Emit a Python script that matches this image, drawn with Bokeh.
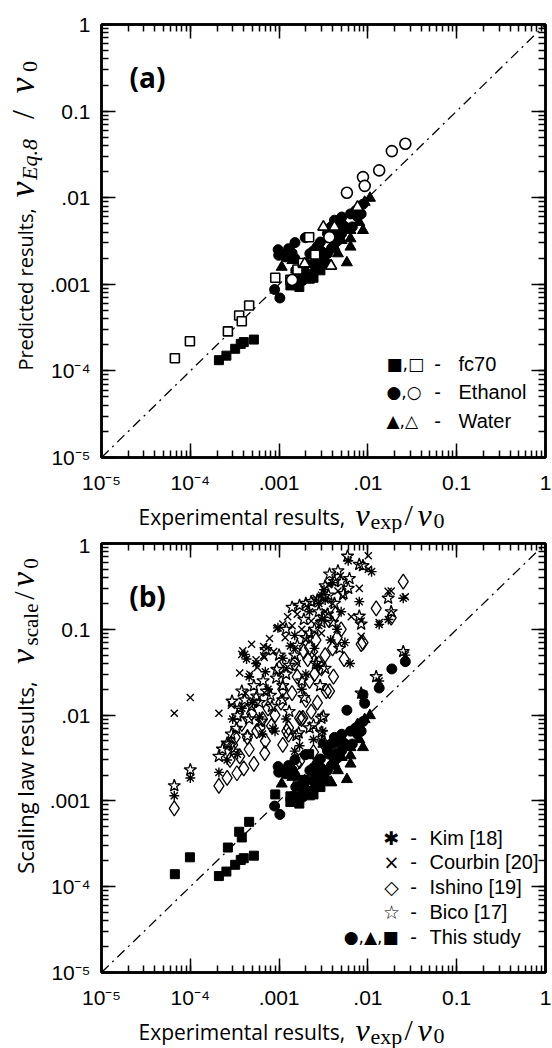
import math
from bokeh.plotting import figure
from bokeh.models import LogAxis, LogTicker, CustomJSTickFormatter, Label
from bokeh.layouts import column, row
from bokeh.embed import file_html
from bokeh.resources import INLINE

# ---------------- axis ticks ----------------
tick_values = [1e-5, 1e-4, 1e-3, 1e-2, 1e-1, 1]
tick_labels = ["10\u207b\u2075", "10\u207b\u2074", ".001", ".01", "0.1", "1"]
diag = [1e-5, 1]

# ---------------- panel (a) data ----------------
fc70_filled_x = [2.1e-4, 2.55e-4, 3.2e-4, 3.7e-4, 4.0e-4, 5.2e-4, 1.34e-3, 1.69e-3, 2.22e-3, 2.44e-3, 1.47e-3, 2.92e-3, 1.85e-3]
fc70_filled_y = [1.33e-4, 1.5e-4, 1.8e-4, 2.05e-4, 2.15e-4, 2.3e-4, 9.7e-4, 9.3e-4, 1.16e-3, 1.19e-3, 1.11e-3, 1.45e-3, 1.33e-3]
fc70_open_x = [6.7e-5, 9.9e-5, 2.65e-4, 3.55e-4, 3.8e-4, 4.6e-4, 9.05e-4, 1.34e-3, 1.61e-3, 1.85e-3, 2.18e-3, 2.55e-3]
fc70_open_y = [1.4e-4, 2.2e-4, 2.86e-4, 4.37e-4, 3.75e-4, 5.7e-4, 1.19e-3, 1.13e-3, 1.48e-3, 1.76e-3, 3.5e-3, 2.2e-3]
eth_filled_x = [8.9e-4, 1.02e-3, 9.75e-4, 9.9e-4, 1.28e-3, 1.51e-3, 1.97e-3, 1.17e-3, 2.44e-3, 2.92e-3, 3.5e-3, 4.2e-3,
                5.07e-3, 6.37e-3, 7.3e-3, 8.8e-3, 8.4e-3, 5.55e-3, 4.6e-3, 2.92e-3, 2.03e-3, 1.54e-3, 1.85e-3, 2.44e-3,
                3.5e-3, 4.2e-3, 5.07e-3, 6.67e-3, 7.65e-3, 3.85e-3, 5.07e-3, 2.22e-3, 2.67e-3, 1.13e-3, 1.4e-3, 1.5e-3,
                1.9e-3, 2.3e-3, 2.6e-3, 3.0e-3, 3.3e-3, 3.9e-3, 4.4e-3]
eth_filled_y = [8.7e-4, 6.95e-4, 2.51e-3, 2.16e-3, 2.58e-3, 3.03e-3, 3.45e-3, 2.07e-3, 2.43e-3, 3.08e-3, 3.85e-3, 5.5e-3,
                5.98e-3, 6.5e-3, 7.1e-3, 8.4e-3, 6.5e-3, 4.6e-3, 3.2e-3, 1.98e-3, 1.73e-3, 1.45e-3, 1.11e-3, 1.73e-3,
                2.26e-3, 2.94e-3, 3.85e-3, 4.6e-3, 5.98e-3, 4.6e-3, 5.0e-3, 2.26e-3, 2.7e-3, 2.2e-3, 2.3e-3, 2.0e-3,
                1.5e-3, 1.3e-3, 1.6e-3, 2.4e-3, 1.8e-3, 2.6e-3, 3.6e-3]
eth_open_x = [2.64e-2, 1.86e-2, 1.34e-2, 8.8e-3, 9.2e-3, 5.8e-3, 3.68e-3, 1.4e-3]
eth_open_y = [4.2e-2, 3.45e-2, 2.07e-2, 1.73e-2, 1.37e-2, 1.14e-2, 3.5e-3, 1.12e-3]
wat_filled_x = [1.055e-2, 9.2e-3, 8.8e-3, 8.0e-3, 6.37e-3, 6.37e-3, 5.8e-3, 6.37e-3, 3.85e-3, 1.07e-3, 1.41e-3, 2.92e-3,
                4.6e-3, 2.44e-3, 3.2e-3, 5.07e-3, 4.2e-3, 2.03e-3]
wat_filled_y = [9.9e-3, 8.9e-3, 4.2e-3, 5.2e-3, 2.7e-3, 3.37e-3, 1.78e-3, 4.2e-3, 1.66e-3, 1.58e-3, 1.89e-3, 1.66e-3,
                2.26e-3, 1.45e-3, 1.89e-3, 3.22e-3, 2.7e-3, 1.33e-3]
wat_open_x = [3.15e-3, 4.2e-3, 1.94e-3, 3.85e-3, 7.65e-3]
wat_open_y = [4.6e-3, 4.6e-3, 1.73e-3, 1.63e-3, 7.8e-3]

# ---------------- panel (b) literature scaling laws ----------------
kim_x = [6.6e-5, 1.0e-4, 2.1e-4, 2.6e-4, 3.4e-4, 4.1e-4, 4.3e-4, 3.8e-4, 5.0e-4, 6.0e-4, 7.5e-4, 9.7e-4, 1.34e-3,
         1.5e-3, 1.7e-3, 2.44e-3, 3.1e-3, 3.0e-3, 2.0e-3, 2.5e-3, 3.0e-3, 3.2e-3, 4.5e-3, 5.5e-3, 6.3e-3, 8.0e-3,
         1.1e-2, 1.34e-2, 2.5e-2, 2.64e-2, 8.8e-3, 1.34e-2, 1.2e-3, 9.0e-4, 6.5e-4, 8.5e-4, 3.0e-3, 3.3e-3, 2.8e-3,
         3.0e-4, 4.6e-4, 5.5e-4, 7.0e-4, 1.1e-3, 1.5e-3, 2.2e-3, 4.0e-3, 5.0e-3, 1.8e-3, 2.7e-3, 3.8e-3, 6.0e-3, 1.7e-2]
kim_y = [1.15e-3, 1.85e-3, 2.15e-3, 3.0e-3, 3.5e-3, 5.1e-2, 4.5e-2, 1.2e-2, 1.4e-2, 9.5e-3, 2.0e-2, 1.04e-1, 6.4e-2,
         3.8e-3, 4.4e-3, 5.2e-3, 6.5e-3, 5.0e-3, 3.0e-2, 6.0e-2, 1.3e-1, 2.9e-1, 1.0e-1, 7.0e-2, 4.0e-2, 2.1e-1,
         4.7e-1, 1.14e-1, 2.3e-1, 5.0e-2, 1.6e-2, 2.5e-2, 9.0e-3, 6.5e-3, 6.0e-3, 7.0e-3, 2.5e-1, 2.2e-1, 2.0e-1,
         9.0e-3, 2.8e-2, 4.0e-2, 3.2e-2, 4.6e-2, 8.5e-2, 1.6e-1, 3.5e-1, 1.6e-1, 2.0e-2, 3.8e-2, 7.5e-2, 6.3e-1, 1.3e-1]
courbin_x = [6.6e-5, 1.0e-4, 2.1e-4, 3.6e-4, 3.8e-4, 3.9e-4, 4.7e-4, 4.9e-4, 6.7e-4, 6.7e-4, 8.7e-4, 7.4e-4, 6.8e-4,
             9.4e-4, 9.7e-4, 1.17e-3, 1.1e-3, 1.4e-3, 1.8e-3, 2.3e-3, 2.8e-3, 3.3e-3, 3.0e-3, 2.0e-3, 1.5e-3, 4.0e-3,
             4.6e-3, 5.2e-3, 8.0e-3, 8.4e-3, 8.4e-3, 1.01e-2, 1.01e-2, 1.69e-2, 1.34e-2, 1.83e-2, 2.64e-2, 2.9e-4,
             4.2e-4, 1.2e-3, 1.6e-3, 2.5e-3, 5.7e-4, 7.8e-4, 1.25e-3, 1.6e-3, 2.1e-3, 2.6e-3, 3.6e-3, 4.9e-3,
             6.5e-3, 5.5e-4]
courbin_y = [1.05e-2, 1.6e-2, 1.05e-2, 3.1e-2, 5.1e-2, 5.6e-2, 3.0e-2, 6.7e-2, 6.3e-2, 4.9e-2, 5.5e-2, 6.1e-2, 4.7e-2,
             1.02e-1, 1.04e-1, 8.0e-2, 1.15e-1, 1.1e-1, 1.0e-1, 1.25e-1, 1.1e-1, 1.6e-1, 9.0e-2, 7.5e-2, 6.0e-2, 2.0e-1,
             2.8e-1, 2.4e-1, 3.0e-1, 1.25e-1, 8.3e-2, 7.2e-1, 5.0e-1, 2.77e-1, 1.2e-1, 2.8e-1, 2.4e-1, 1.3e-2,
             1.8e-2, 3.5e-2, 4.0e-2, 5.0e-2, 3.6e-2, 7.8e-2, 1.4e-1, 1.5e-1, 1.8e-1, 2.3e-1, 3.3e-1, 4.2e-1,
             1.4e-1, 4.4e-2]
ishino_x = [6.6e-5, 2.1e-4, 2.6e-4, 3.35e-4, 4.0e-4, 5.2e-4, 6.9e-4, 3.8e-4, 4.9e-4, 6.1e-4, 3.0e-4, 4.4e-4, 5.5e-4,
            7.5e-4, 9.0e-4, 1.1e-3, 1.28e-3, 1.28e-3, 1.57e-3, 1.7e-3, 1.7e-3, 1.85e-3, 1.79e-3, 1.22e-3, 2.0e-3,
            2.2e-3, 2.5e-3, 2.8e-3, 3.15e-3, 2.44e-3, 3.4e-3, 3.7e-3, 3.0e-3, 3.3e-3, 4.0e-3, 4.5e-3, 5.0e-3, 5.4e-3,
            8.4e-3, 1.24e-2, 1.83e-2, 2.5e-2, 1.5e-3, 1.9e-3, 2.2e-3, 1.0e-3, 8.8e-3,
            2.8e-4, 3.2e-4, 3.6e-4, 4.6e-4, 5.6e-4, 6.5e-4, 7.0e-4, 8.2e-4, 1.05e-3, 1.4e-3, 1.6e-3, 2.1e-3,
            2.6e-3, 3.6e-3, 4.3e-3, 2.3e-3, 2.7e-3, 4.1e-3, 1.1e-3]
ishino_y = [8.2e-4, 1.5e-3, 1.85e-3, 2.1e-3, 2.4e-3, 2.7e-3, 3.6e-3, 7.9e-3, 1.05e-2, 7.1e-3, 4.5e-3, 5.5e-3, 1.5e-2,
            1.2e-2, 1.0e-2, 2.0e-2, 7.1e-3, 5.9e-3, 2.7e-3, 2.9e-3, 9.2e-3, 9.3e-3, 9.0e-3, 6.5e-3, 1.5e-2,
            2.5e-2, 3.0e-2, 4.0e-2, 4.7e-3, 3.7e-3, 1.9e-2, 1.9e-2, 3.5e-2, 5.0e-2, 6.0e-2, 8.0e-2, 1.0e-1, 4.5e-2,
            6.7e-2, 1.75e-1, 1.37e-1, 3.6e-1, 4.0e-2, 5.5e-2, 6.1e-2, 3.5e-2, 7.0e-2,
            3.0e-3, 5.5e-3, 3.3e-3, 4.0e-3, 6.5e-3, 9.0e-3, 5.0e-3, 7.5e-3, 1.4e-2, 1.8e-2, 2.8e-2, 4.5e-2,
            7.5e-2, 1.3e-1, 1.5e-1, 1.1e-2, 1.4e-2, 2.8e-2, 4.5e-3]
bico_x = [6.6e-5, 1.0e-4, 2.1e-4, 2.6e-4, 2.7e-4, 3.1e-4, 2.95e-4, 3.4e-4, 3.8e-4, 4.4e-4, 4.9e-4, 5.6e-4, 6.3e-4,
          7.2e-4, 8.3e-4, 9.4e-4, 9.3e-4, 7.1e-4, 1.0e-3, 1.4e-3, 1.7e-3, 2.0e-3, 2.3e-3, 2.7e-3, 3.2e-3, 3.6e-3,
          3.7e-3, 4.2e-3, 5.0e-3, 6.2e-3, 6.0e-3, 5.9e-3, 8.0e-3, 8.8e-3, 1.69e-2, 8.0e-3, 8.4e-3, 2.5e-2, 1.24e-2,
          8.4e-3, 3.0e-3, 2.2e-3, 3.0e-3, 1.57e-3, 1.66e-3, 2.44e-3, 3.15e-3, 1.2e-3, 1.5e-3, 2.0e-3, 2.5e-3,
          3.0e-3, 3.5e-3, 4.2e-3, 1.2e-3, 1.83e-2, 1.8e-3, 2.6e-3, 1.1e-3,
          2.3e-4, 2.9e-4, 3.3e-4, 3.6e-4, 4.1e-4, 4.6e-4, 5.2e-4, 6.0e-4, 6.6e-4, 8.0e-4, 1.1e-3, 1.3e-3,
          1.6e-3, 1.9e-3, 2.2e-3, 2.8e-3, 3.3e-3, 4.6e-3, 5.3e-3, 4.0e-3, 1.3e-3, 1.9e-3, 2.9e-3, 3.3e-3, 4.8e-3]
bico_y = [1.5e-3, 2.3e-3, 3.3e-3, 4.7e-3, 4.6e-3, 3.8e-3, 1.45e-2, 9.8e-3, 1.9e-2, 5.7e-3, 1.26e-2, 1.66e-2, 8.5e-3,
          1.9e-2, 1.26e-2, 3.4e-2, 2.7e-2, 5.8e-2, 5.0e-2, 1.8e-1, 1.9e-1, 2.0e-1, 2.1e-1, 2.2e-1, 2.4e-1, 2.5e-1,
          4.4e-1, 3.6e-1, 3.6e-1, 3.9e-1, 3.0e-1, 7.1e-1, 5.7e-1, 5.5e-1, 2.3e-1, 1.42e-1, 1.15e-1, 5.5e-2, 2.8e-2,
          1.8e-2, 9.2e-3, 7.1e-3, 6.3e-3, 5.8e-3, 6.2e-3, 7.7e-3, 9.7e-3, 3.0e-2, 5.0e-2, 8.0e-2, 1.0e-1,
          1.2e-1, 1.5e-1, 2.0e-1, 1.0e-1, 1.6e-1, 2.5e-2, 4.0e-2, 1.5e-2,
          4.0e-3, 6.0e-3, 7.0e-3, 1.2e-2, 1.5e-2, 9.0e-3, 2.2e-2, 1.4e-2, 2.5e-2, 1.7e-2, 2.2e-2, 3.8e-2,
          6.5e-2, 1.3e-1, 9.0e-2, 1.6e-1, 3.2e-1, 4.8e-1, 2.6e-1, 1.2e-1, 1.1e-2, 1.6e-2, 2.2e-2, 3.5e-2, 6.0e-2]

legend_a = [("\u25a0,\u25a1", "fc70"), ("\u25cf,\u25cb", "Ethanol"), ("\u25b2,\u25b3", "Water")]
legend_b = [("\u2731", "Kim [18]"), ("\u00d7", "Courbin [20]"), ("\u25c7", "Ishino [19]"),
            ("\u2606", "Bico [17]"), ("\u25cf,\u25b2,\u25a0", "This study")]

SANS = "Liberation Sans"
TITLE = "Open Sans"
MATH = "Liberation Serif"

fmt = CustomJSTickFormatter(args=dict(vals=tick_values, labs=tick_labels), code="""
let best = 0, bd = 1e9;
for (let i = 0; i < vals.length; i++) {
  const d = Math.abs(Math.log10(tick) - Math.log10(vals[i]));
  if (d < bd) { bd = d; best = i; }
}
return bd < 0.01 ? labs[best] : "";
""")
blank = CustomJSTickFormatter(code="return '';")


def style_axis(ax, labels):
    ax.ticker = LogTicker(num_minor_ticks=10)
    ax.major_tick_in = 14
    ax.major_tick_out = 0
    ax.minor_tick_in = 7
    ax.minor_tick_out = 0
    ax.major_tick_line_width = 1.5
    ax.minor_tick_line_width = 1.5
    ax.major_tick_line_color = "black"
    ax.minor_tick_line_color = "black"
    ax.axis_line_color = "black"
    ax.axis_line_width = 2.5
    if labels:
        ax.formatter = fmt
        ax.major_label_text_font = SANS
        ax.major_label_text_font_size = "21px"
        ax.major_label_text_color = "black"
        ax.major_label_standoff = 13
    else:
        ax.formatter = blank
        ax.major_label_standoff = 0


def make_fig(height, top, bottom):
    p = figure(width=506, height=height, x_axis_type="log", y_axis_type="log",
               x_range=(1e-5, 1), y_range=(1e-5, 1), output_backend="svg",
               toolbar_location=None, min_border_left=53, min_border_right=7,
               min_border_top=top, min_border_bottom=bottom)
    p.grid.visible = False
    p.outline_line_color = "black"
    p.outline_line_width = 2.5
    p.background_fill_color = "white"
    p.border_fill_color = "white"
    style_axis(p.xaxis[0], True)
    style_axis(p.yaxis[0], True)
    p.yaxis[0].major_label_standoff = 11
    top_ax = LogAxis()
    right_ax = LogAxis()
    style_axis(top_ax, False)
    style_axis(right_ax, False)
    p.add_layout(top_ax, "above")
    p.add_layout(right_ax, "right")
    p.line(diag, diag, line_color="black", line_width=1.3, line_dash="10 5 2 5")
    return p


def text_fig(width, height):
    t = figure(width=width, height=height, x_range=(0, 1), y_range=(0, 1), output_backend="svg",
               toolbar_location=None, x_axis_location=None, y_axis_location=None,
               min_border=0, min_border_left=0, min_border_right=0, min_border_top=0, min_border_bottom=0)
    t.grid.visible = False
    t.outline_line_color = None
    t.background_fill_color = "white"
    t.border_fill_color = "white"
    return t


def lab(p, x, y, text, font=SANS, size=20, style="normal", align="left", baseline="middle", angle=0.0):
    p.add_layout(Label(x=x, y=y, x_units="screen", y_units="screen", text=text,
                       text_font=font, text_font_size=f"{size}px", text_font_style=style,
                       text_align=align, text_baseline=baseline, angle=angle, text_color="black"))


def x_title(t):
    lab(t, 138, 17, "Experimental results,", font=TITLE, size=21)
    lab(t, 355, 19, "v", font=MATH, size=32, style="italic")
    lab(t, 370, 12.5, "exp", font=MATH, size=22)
    lab(t, 404, 19, "/", font=MATH, size=30)
    lab(t, 417, 19, "v", font=MATH, size=32, style="italic")
    lab(t, 433, 12.5, "0", font=MATH, size=22)


def y_title(t, words, wsize, wx, wy, parts):
    a = math.pi / 2
    lab(t, wx, wy, words, font=TITLE, size=wsize, angle=a, align="center")
    for (txt, size, style, x, y) in parts:
        lab(t, x, y, txt, font=MATH, size=size, style=style, angle=a, align="center")


# ---------------- panel (a) ----------------
pa = make_fig(496, 24, 38)
pa.scatter(fc70_filled_x, fc70_filled_y, marker="square", size=9, fill_color="black", line_color="black")
pa.scatter(eth_filled_x, eth_filled_y, marker="circle", size=10, fill_color="black", line_color="black")
pa.scatter(wat_filled_x, wat_filled_y, marker="triangle", size=11, fill_color="black", line_color="black")
pa.scatter(fc70_open_x, fc70_open_y, marker="square", size=9, fill_color="white", line_color="black", line_width=1.6)
pa.scatter(eth_open_x, eth_open_y, marker="circle", size=11, fill_color="white", line_color="black", line_width=1.6)
pa.scatter(wat_open_x, wat_open_y, marker="triangle", size=11, fill_color="white", line_color="black", line_width=1.6)
lab(pa, 46, 381, "(a)", font=TITLE, size=28, style="bold", align="center")
for i, (sym, name) in enumerate(legend_a):
    yy = 94 - 28.5 * i
    lab(pa, 285, yy, sym, font="DejaVu Sans", size=17)
    lab(pa, 336, yy, "-", size=20, align="center")
    lab(pa, 357, yy, name, size=20)

ta_left = text_fig(46, 496)
y_title(ta_left, "Predicted results,", 20, 25, 168,
        [("v", 36, "italic", 21, 268), ("Eq.8", 22, "italic", 29, 298), ("/", 32, "normal", 22, 343),
         ("v", 36, "italic", 21, 372), ("0", 22, "normal", 29.5, 391)])
ta_below = text_fig(552, 37)
x_title(ta_below)

# ---------------- panel (b) ----------------
pb = make_fig(478, 10, 38)
pb.scatter(kim_x, kim_y, marker="asterisk", size=10, line_color="black", line_width=1.4)
pb.scatter(courbin_x, courbin_y, marker="x", size=10, line_color="black", line_width=1.4)
pb.scatter(ishino_x, ishino_y, marker="diamond", size=15, fill_color=None, line_color="black", line_width=1.3)
pb.scatter(bico_x, bico_y, marker="star", size=13, fill_color=None, line_color="black", line_width=1.3)
pb.scatter(fc70_filled_x + fc70_open_x, fc70_filled_y + fc70_open_y, marker="square", size=9,
           fill_color="black", line_color="black")
pb.scatter(eth_filled_x + eth_open_x, eth_filled_y + eth_open_y, marker="circle", size=10,
           fill_color="black", line_color="black")
pb.scatter(wat_filled_x + wat_open_x, wat_filled_y + wat_open_y, marker="triangle", size=11,
           fill_color="black", line_color="black")
lab(pb, 46, 377, "(b)", font=TITLE, size=28, style="bold", align="center")
for i, (sym, name) in enumerate(legend_b):
    yy = 135 - 24.8 * i
    if i < 4:
        lab(pb, 290, yy, sym, font="DejaVu Sans", size=19, align="center")
    else:
        lab(pb, 297, yy, sym, font="DejaVu Sans", size=17, align="right")
    lab(pb, 312, yy, "-", size=20, align="center")
    lab(pb, 328, yy, name, size=20)

tb_left = text_fig(46, 478)
y_title(tb_left, "Scaling law results,", 22, 24.5, 195,
        [("v", 34, "italic", 21.5, 316), ("scale", 21, "normal", 30, 348), ("/", 30, "normal", 23, 377),
         ("v", 34, "italic", 21.5, 393), ("0", 21, "normal", 30, 409)])
tb_below = text_fig(552, 37)
x_title(tb_below)

layout = column(row(ta_left, pa), ta_below, row(tb_left, pb), tb_below)
open("out.html", "w").write(file_html(layout, INLINE))
